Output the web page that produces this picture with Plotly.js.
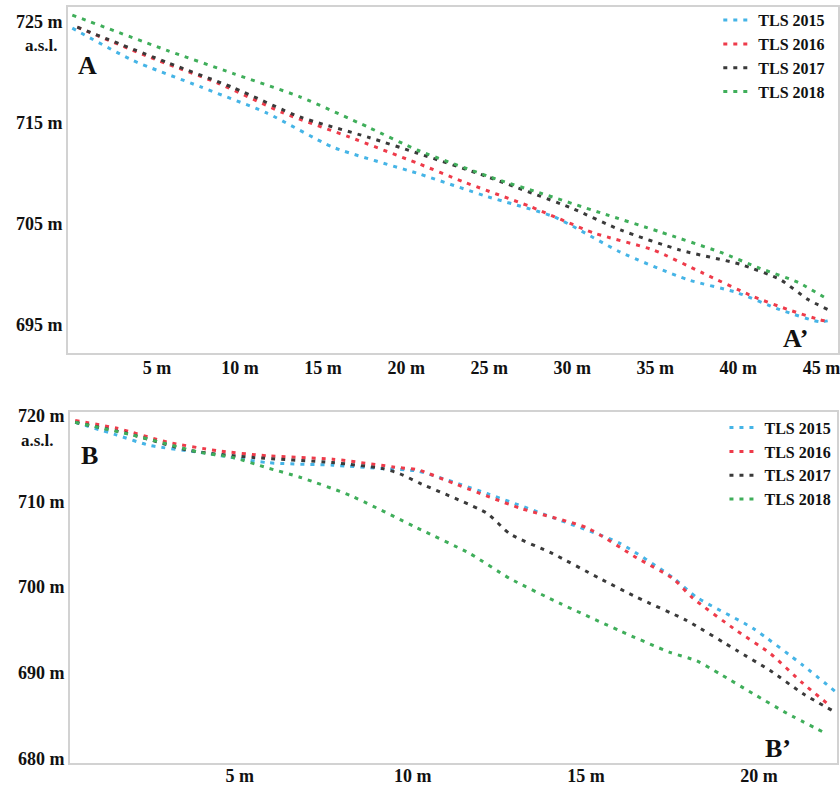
<!DOCTYPE html>
<html>
<head>
<meta charset="utf-8">
<script src="https://cdn.plot.ly/plotly-3.0.1.min.js"></script>
<style>html,body{margin:0;padding:0;background:#fff;}#chart{width:840px;height:786px;}</style>
</head>
<body>
<div id="chart"></div>
<script>
// Series names
const seriesNames = ["TLS 2015", "TLS 2016", "TLS 2017", "TLS 2018"];

// Profile A–A' (distance m, elevation m a.s.l.)
const aX2015 = [-0.1, 3.55, 7.6, 11.6, 15.6, 20.7, 24.9, 28.9, 32.9, 36.9, 39.9, 42.5, 44.9, 45.7];
const aY2015 = [724.4, 721.2, 718.6, 716.0, 712.6, 710.0, 707.7, 705.7, 702.2, 699.5, 698.2, 696.5, 695.3, 695.5];
const aX2016 = [0.2, 4.6, 8.6, 12.6, 16.6, 20.7, 23.4, 27.5, 31.3, 34.9, 37.9, 40.9, 43.0, 44.9, 45.5];
const aY2016 = [724.5, 721.5, 719.0, 716.0, 713.6, 711.0, 709.2, 706.7, 704.1, 702.4, 700.1, 697.8, 696.5, 695.5, 695.3];
const aX2017 = [0.2, 5.6, 9.6, 13.6, 17.7, 20.7, 24.5, 29.9, 32.9, 36.5, 40.1, 42.5, 44.2, 45.4];
const aY2017 = [724.5, 721.0, 718.5, 715.6, 713.6, 712.0, 709.9, 706.6, 704.4, 702.4, 701.0, 699.5, 697.5, 696.5];
const aX2018 = [-0.1, 5.6, 9.6, 13.6, 17.7, 20.7, 25.5, 28.0, 31.7, 35.3, 38.9, 41.3, 43.6, 45.4];
const aY2018 = [725.7, 722.2, 719.9, 717.6, 714.6, 712.3, 709.4, 708.1, 706.1, 704.2, 702.2, 700.6, 699.2, 697.5];

// Profile B–B'
const bX2015 = [0.25, 1.46, 2.41, 3.85, 5.79, 7.69, 9.14, 10.15, 12.14, 14.04, 15.98, 17.51, 18.2, 19.82, 21.26, 22.24];
const bY2015 = [719.2, 717.7, 716.5, 715.7, 714.5, 714.2, 713.8, 713.5, 710.9, 708.1, 705.1, 701.1, 698.8, 695.2, 690.9, 687.7];
const bX2016 = [0.25, 1.46, 2.9, 4.34, 5.79, 7.69, 9.63, 10.12, 11.17, 13.09, 15.03, 16.47, 17.51, 18.09, 19.36, 20.31, 21.26, 22.04];
const bY2016 = [719.4, 718.5, 716.9, 715.9, 715.3, 714.9, 713.9, 713.7, 712.1, 709.2, 706.9, 703.4, 701.0, 698.7, 694.9, 692.3, 688.8, 686.2];
const bX2017 = [0.25, 1.75, 3.57, 5.39, 7.69, 9.14, 9.63, 10.2, 12.14, 12.8, 14.04, 15.4, 16.47, 17.91, 19.36, 20.31, 21.26, 22.12];
const bY2017 = [719.2, 717.9, 715.9, 715.1, 714.5, 713.8, 713.2, 712.1, 708.6, 706.2, 703.9, 701.0, 698.8, 696.1, 692.6, 690.3, 687.6, 685.6];
const bX2018 = [0.25, 1.92, 3.85, 4.81, 5.79, 6.74, 8.18, 10.12, 11.65, 12.8, 14.25, 15.98, 17.42, 18.2, 18.86, 19.82, 20.8, 21.95];
const bY2018 = [719.2, 717.7, 715.7, 715.1, 713.9, 712.8, 710.7, 706.9, 703.9, 701.0, 698.1, 694.9, 692.4, 691.4, 689.9, 687.6, 685.3, 682.9];

// Tick labels
const aXTickVals = [5, 10, 15, 20, 25, 30, 35, 40, 45];
const aYTickVals = [695, 705, 715, 725];
const bXTickVals = [5, 10, 15, 20];
const bYTickVals = [680, 690, 700, 710, 720];
const withUnit = v => v + " m";

const colors = ["#45b4e6", "#ee3b4a", "#3a3a3a", "#3fae5a"];
const serif = "Liberation Serif, Times New Roman, serif";
const tickFont = {family: serif, size: 18, color: "#111", weight: "bold"};

const aXs = [aX2015, aX2016, aX2017, aX2018];
const aYs = [aY2015, aY2016, aY2017, aY2018];
const bXs = [bX2015, bX2016, bX2017, bX2018];
const bYs = [bY2015, bY2016, bY2017, bY2018];

const traces = [];
for (let i = 0; i < 4; i++) {
  traces.push({
    x: aXs[i], y: aYs[i], name: seriesNames[i], mode: "lines",
    line: {color: colors[i], width: 3, dash: "4px,6px", shape: "spline", smoothing: 0.6},
    xaxis: "x", yaxis: "y", legend: "legend"
  });
}
for (let i = 0; i < 4; i++) {
  traces.push({
    x: bXs[i], y: bYs[i], name: seriesNames[i], mode: "lines",
    line: {color: colors[i], width: 3, dash: "4px,6px", shape: "spline", smoothing: 0.6},
    xaxis: "x2", yaxis: "y2", legend: "legend2"
  });
}

const frame = {showline: true, mirror: true, linecolor: "#d2d2d2", linewidth: 2,
  showgrid: false, zeroline: false, ticks: "", tickfont: tickFont, ticklabeloverflow: "allow"};

const legendCommon = {font: {family: serif, size: 16, color: "#111", weight: "bold"},
  bgcolor: "rgba(0,0,0,0)", xanchor: "right", yanchor: "top", tracegroupgap: 0};

const annFont = {family: serif, size: 26, color: "#111", weight: "bold"};
const aslFont = {family: serif, size: 17, color: "#111", weight: "bold"};

const layout = {
  width: 840, height: 786,
  margin: {l: 68, r: 2, t: 7, b: 23},
  paper_bgcolor: "#fff", plot_bgcolor: "#fff",
  showlegend: true,
  xaxis: Object.assign({}, frame, {domain: [0, 1], range: [-0.36, 46.0],
    tickvals: aXTickVals, ticktext: aXTickVals.map(withUnit), anchor: "y", ticklabelstandoff: -3}),
  yaxis: Object.assign({}, frame, {domain: [0.5423, 1], range: [692.2, 726.5],
    tickvals: aYTickVals, ticktext: aYTickVals.map(withUnit), anchor: "x"}),
  xaxis2: Object.assign({}, frame, {domain: [0.0026, 0.9987], range: [0.1, 22.25],
    tickvals: bXTickVals, ticktext: bXTickVals.map(withUnit), anchor: "y2", ticklabelstandoff: -5}),
  yaxis2: Object.assign({}, frame, {domain: [0, 0.4643], range: [679.5, 720.4],
    tickvals: bYTickVals, ticktext: bYTickVals.map(withUnit), anchor: "x2"}),
  legend: Object.assign({}, legendCommon, {x: 0.99, y: 1.005}),
  legend2: Object.assign({}, legendCommon, {x: 0.998, y: 0.466}),
  annotations: [
    {text: "A", xref: "x", yref: "y", x: 0.84, y: 720.7, xanchor: "center", yanchor: "middle", showarrow: false, font: annFont},
    {text: "A’", xref: "x", yref: "y", x: 43.5, y: 693.6, xanchor: "center", yanchor: "middle", showarrow: false, font: annFont},
    {text: "B", xref: "x2", yref: "y2", x: 0.65, y: 715.3, xanchor: "center", yanchor: "middle", showarrow: false, font: annFont},
    {text: "B’", xref: "x2", yref: "y2", x: 20.54, y: 681.2, xanchor: "center", yanchor: "middle", showarrow: false, font: annFont},
    {text: "a.s.l.", xref: "paper", yref: "y", x: -0.035, y: 722.7, xanchor: "center", yanchor: "middle", showarrow: false, font: aslFont},
    {text: "a.s.l.", xref: "paper", yref: "y2", x: -0.039, y: 717.1, xanchor: "center", yanchor: "middle", showarrow: false, font: aslFont}
  ]
};

Plotly.newPlot("chart", traces, layout, {staticPlot: true, displayModeBar: false});
</script>
</body>
</html>
